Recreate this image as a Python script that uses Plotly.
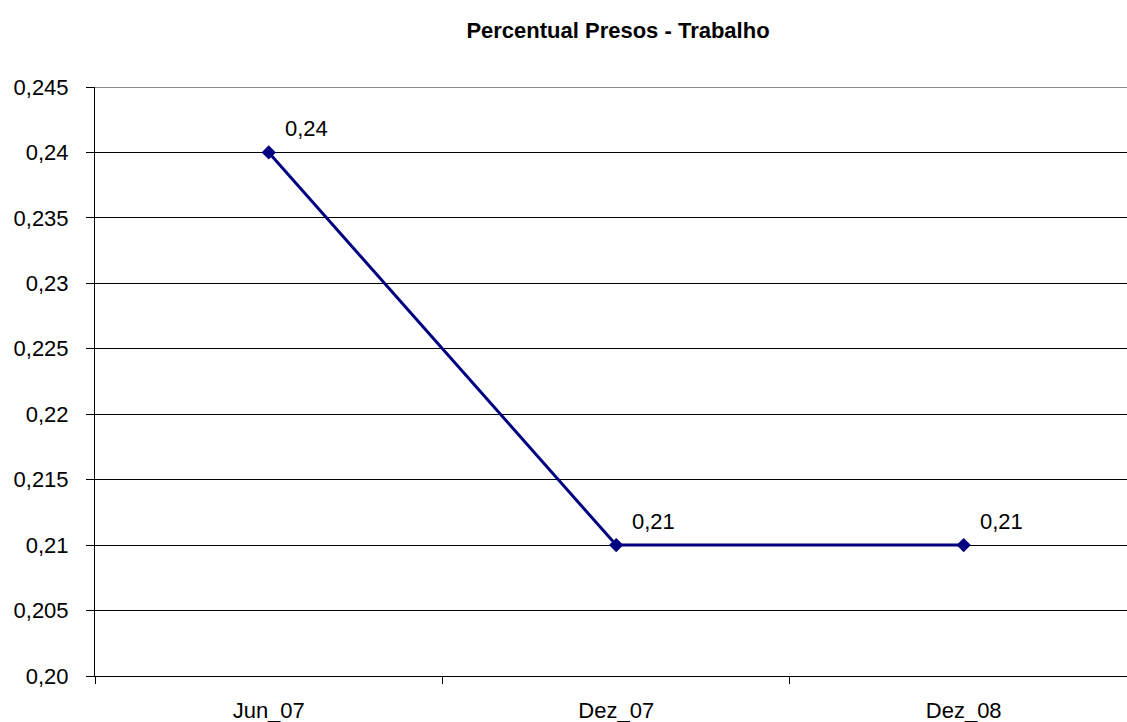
import plotly.graph_objects as go

# Series data
periods = ["Jun_07", "Dez_07", "Dez_08"]
values = [0.24, 0.21, 0.21]

# Y axis ticks (comma decimal separator)
y_ticks = [0.20, 0.205, 0.21, 0.215, 0.22, 0.225, 0.23, 0.235, 0.24, 0.245]
y_tick_text = ["0,20", "0,205", "0,21", "0,215", "0,22", "0,225", "0,23", "0,235", "0,24", "0,245"]

FONT = "Liberation Sans, Arial, sans-serif"
NAVY = "#000080"
LABEL_SIZE = 22

def fmt(v):
    return f"{v:.2f}".replace(".", ",")

fig = go.Figure()
fig.add_trace(go.Scatter(
    x=periods, y=values, mode="lines+markers",
    line=dict(color=NAVY, width=3),
    marker=dict(symbol="diamond", size=11, color=NAVY),
    hoverinfo="skip", showlegend=False,
))

# Value labels beside each point
for p, v in zip(periods, values):
    fig.add_annotation(
        x=p, y=v, text=fmt(v), showarrow=False,
        xanchor="left", yanchor="bottom", xshift=14, yshift=9,
        font=dict(family=FONT, size=LABEL_SIZE, color="black"),
    )

# Grey plot-area border along the top edge
fig.add_shape(type="line", xref="paper", yref="y", x0=0, x1=1, y0=0.245, y1=0.245,
              line=dict(color="#8c8c8c", width=2), layer="above")

fig.update_layout(
    width=1127, height=722,
    margin=dict(l=95, r=0, t=87, b=46),
    paper_bgcolor="white", plot_bgcolor="white",
    title=dict(
        text="<b>Percentual Presos - Trabalho</b>",
        x=618 / 1127, xanchor="center", xref="container",
        y=1 - 30 / 722, yanchor="middle", yref="container",
        font=dict(family=FONT, size=22, color="black"),
    ),
    font=dict(family=FONT, size=LABEL_SIZE, color="black"),
)

fig.update_xaxes(
    type="category", range=[-0.5, 2.47],
    showgrid=False, showline=True, linecolor="black", linewidth=1,
    ticks="outside", tickson="boundaries", ticklen=7, tickcolor="black",
    ticklabelstandoff=15,
    tickfont=dict(family=FONT, size=LABEL_SIZE, color="black"),
    fixedrange=True,
)
fig.update_yaxes(
    range=[0.20, 0.245], tickvals=y_ticks, ticktext=y_tick_text,
    showgrid=True, gridcolor="black", gridwidth=1,
    showline=True, linecolor="black", linewidth=1,
    ticks="outside", ticklen=8, tickcolor="black",
    ticklabelstandoff=13,
    tickfont=dict(family=FONT, size=LABEL_SIZE, color="black"),
    zeroline=False, fixedrange=True,
)

fig.write_html("out.html")
